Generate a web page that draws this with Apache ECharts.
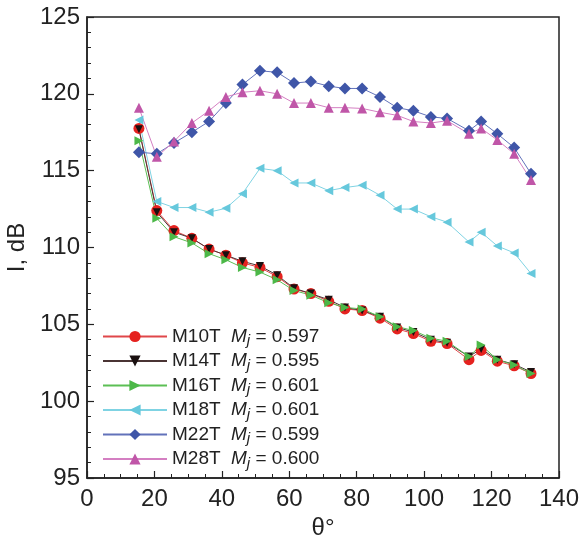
<!DOCTYPE html>
<html lang="en">
<head>
  <meta charset="UTF-8">
  <title>I vs theta</title>
  <style>
    body { margin: 0; padding: 0; background: #fff; }
    #chart { width: 584px; height: 539px; }
  </style>
  <script src="https://cdn.jsdelivr.net/npm/echarts@6/dist/echarts.min.js"></script>
</head>
<body>
  <div id="chart"></div>
  <script>
    // angles (deg), shared by all runs
    const theta = [15.4, 20.7, 25.8, 31.1, 36.2, 41.2, 46.1, 51.3, 56.4, 61.4, 66.4, 71.7,
                   76.5, 81.6, 86.9, 92.0, 96.8, 102.0, 106.8, 113.3, 116.9, 121.7, 126.7, 131.7];

    const m10t = [117.75, 112.4, 111.1, 110.6, 109.9, 109.5, 109.0, 108.7, 108.1, 107.3, 107.0, 106.5,
                  106.0, 105.9, 105.4, 104.7, 104.4, 103.9, 103.75, 102.7, 103.3, 102.6, 102.3, 101.8];
    const m14t = [117.7, 112.3, 111.0, 110.6, 109.9, 109.5, 109.1, 108.8, 108.2, 107.35, 107.0, 106.6,
                  106.1, 105.9, 105.5, 104.8, 104.5, 104.0, 103.8, 102.9, 103.4, 102.7, 102.4, 101.9];
    const m16t = [116.95, 111.9, 110.7, 110.3, 109.6, 109.2, 108.7, 108.4, 107.9, 107.2, 106.9, 106.4,
                  106.1, 106.0, 105.5, 104.85, 104.6, 104.1, 103.9, 102.9, 103.65, 102.7, 102.35, 101.8];
    const m18t = [118.3, 113.0, 112.6, 112.6, 112.3, 112.55, 113.5, 115.15, 115.0, 114.2, 114.2, 113.7,
                  113.9, 114.05, 113.4, 112.5, 112.5, 112.0, 111.65, 110.35, 111.0, 110.1, 109.65, 108.3];
    const m22t = [116.2, 116.1, 116.8, 117.5, 118.2, 119.4, 120.6, 121.5, 121.4, 120.7, 120.8, 120.5,
                  120.35, 120.35, 119.8, 119.1, 118.9, 118.5, 118.4, 117.6, 118.2, 117.4, 116.5, 114.8];
    const m28t = [119.1, 115.9, 116.9, 118.1, 118.9, 119.8, 120.1, 120.2, 120.0, 119.4, 119.4, 119.1,
                  119.1, 119.05, 118.8, 118.6, 118.2, 118.1, 118.25, 117.4, 117.75, 117.0, 116.1, 114.4];

    const names = ['M10T', 'M14T', 'M16T', 'M18T', 'M22T', 'M28T'];
    const machs = ['0.597', '0.595', '0.601', '0.601', '0.599', '0.600'];

    const font = "'Liberation Sans', Arial, sans-serif";

    function pairs(ys) { return ys.map((y, i) => [theta[i], y]); }

    function line(name, ys, lineColor, markColor, symbol, size, rotate) {
      return {
        name: name,
        type: 'line',
        data: pairs(ys),
        symbol: symbol,
        symbolSize: size,
        symbolRotate: rotate || 0,
        lineStyle: { color: lineColor, width: 1 },
        itemStyle: { color: markColor },
        emphasis: { disabled: true },
        z: 3
      };
    }

    const chart = echarts.init(document.getElementById('chart'));
    chart.setOption({
      animation: false,
      grid: {
        left: 87, right: 25, top: 17, bottom: 61,
        outerBoundsMode: 'none',
        show: true, borderColor: '#222', borderWidth: 1.5, backgroundColor: 'transparent'
      },
      legend: {
        left: 97, top: 322,
        orient: 'vertical',
        itemWidth: 64, itemHeight: 14, itemGap: 3,
        data: names,
        formatter: function (n) {
          const i = names.indexOf(n);
          return '{n|' + n + '}{m|M}{j|j}{t| = ' + machs[i] + '}';
        },
        textStyle: {
          fontFamily: font, fontSize: 19, color: '#222',
          rich: {
            n: { fontFamily: font, fontSize: 19, color: '#222', width: 59 },
            m: { fontFamily: font, fontSize: 19, color: '#222', fontStyle: 'italic' },
            j: { fontFamily: font, fontSize: 15, color: '#222', fontStyle: 'italic', padding: [9, 0, 0, 0] },
            t: { fontFamily: font, fontSize: 19, color: '#222' }
          }
        }
      },
      xAxis: {
        type: 'value', min: 0, max: 140, interval: 20,
        name: 'θ°', nameLocation: 'middle', nameGap: 33,
        nameTextStyle: { fontFamily: font, fontSize: 24, color: '#222' },
        axisLine: { show: true, onZero: false, lineStyle: { color: '#222', width: 1.5 } },
        axisTick: { show: true, inside: true, length: 7, lineStyle: { color: '#222', width: 1.2 } },
        minorTick: { show: true, splitNumber: 4, length: 4, lineStyle: { color: '#222', width: 1 } },
        axisLabel: { fontFamily: font, fontSize: 24, color: '#222', margin: 9 },
        splitLine: { show: false }
      },
      yAxis: {
        type: 'value', min: 95, max: 125, interval: 5,
        name: 'I, dB', nameLocation: 'middle', nameGap: 44, nameRotate: 90,
        nameTextStyle: { fontFamily: font, fontSize: 24, color: '#222' },
        axisLine: { show: true, onZero: false, lineStyle: { color: '#222', width: 1.5 } },
        axisTick: { show: true, inside: true, length: 7, lineStyle: { color: '#222', width: 1.2 } },
        minorTick: { show: true, splitNumber: 5, length: 4, lineStyle: { color: '#222', width: 1 } },
        axisLabel: { fontFamily: font, fontSize: 24, color: '#222', margin: 7 },
        splitLine: { show: false }
      },
      series: [
        line('M10T', m10t, '#e0474a', '#e5221f', 'circle', 11),
        line('M14T', m14t, '#4a3434', '#1a1010', 'triangle', 8, 180),
        line('M16T', m16t, '#5cbf55', '#4cb848', 'triangle', 9, -90),
        line('M18T', m18t, '#7fd3e3', '#66c8dc', 'triangle', 9, 90),
        line('M22T', m22t, '#6272ba', '#3f56a8', 'diamond', 12),
        line('M28T', m28t, '#d47fc2', '#c056a8', 'triangle', 10)
      ]
    });
  </script>
</body>
</html>
